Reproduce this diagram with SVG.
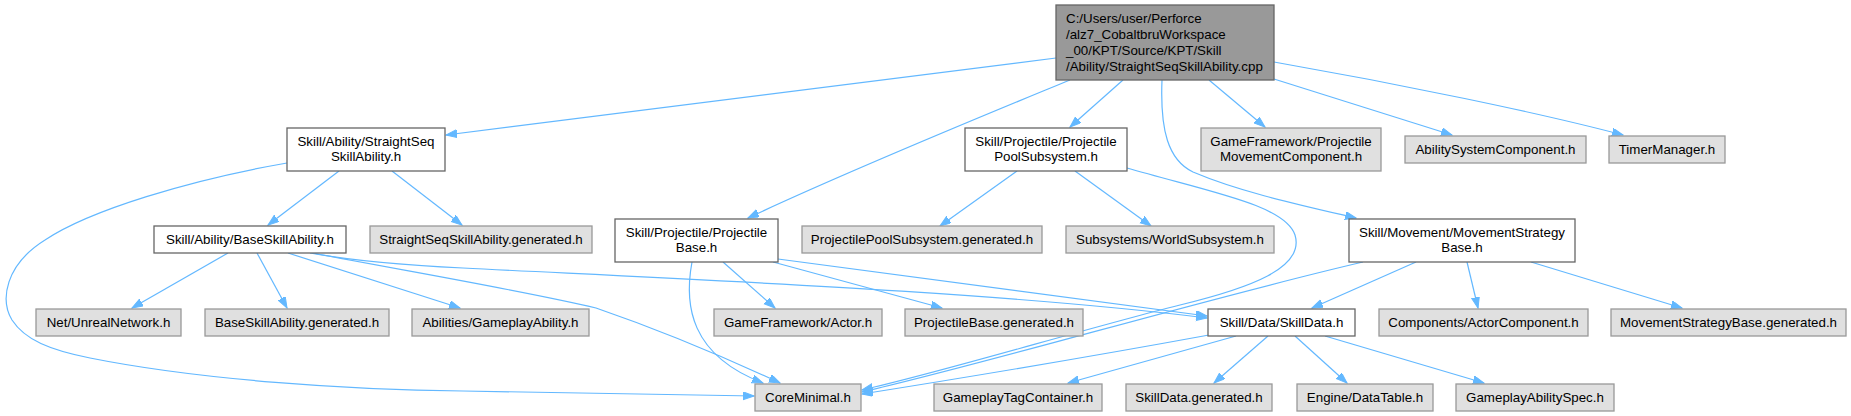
<svg xmlns="http://www.w3.org/2000/svg" width="1851" height="416" viewBox="0 0 1851 416">
<style>
.e{fill:none;stroke:#63b8ff;stroke-width:1.2;marker-end:url(#ah)}
.w{fill:#ffffff;stroke:#666666;stroke-width:1.3}
.g{fill:#e0e0e0;stroke:#999999;stroke-width:1.3}
.r{fill:#999999;stroke:#666666;stroke-width:1.3}
text{font-family:"Liberation Sans",Arial,sans-serif;font-size:13.33px;fill:#000000;text-anchor:middle}
.l{text-anchor:start}
</style>
<defs>
<marker id="ah" markerUnits="userSpaceOnUse" markerWidth="12" markerHeight="9" refX="11" refY="4" orient="auto">
<path d="M0,0 L11,4 L0,8 z" fill="#63b8ff" stroke="#63b8ff" stroke-width="1"/>
</marker>
</defs>
<rect width="1851" height="416" fill="#ffffff"/>
<g id="edges">
<path class="e" d="M1056,58 L446,135"/>
<path class="e" d="M1070,80 C990,113 850,170 748,218"/>
<path class="e" d="M1123,80 L1070,127"/>
<path class="e" d="M1162,80 C1160,130 1168,160 1193,172 C1240,192 1300,205 1356,218"/>
<path class="e" d="M1209,80 L1265,127"/>
<path class="e" d="M1274,79 L1452,135"/>
<path class="e" d="M1274,62 C1400,84 1540,113 1623,135"/>
<path class="e" d="M287,163 C190,180 90,210 45,240 C5,265 0,300 12,320 C25,340 50,350 90,358 C200,380 350,390 463,391 L754,396"/>
<path class="e" d="M339,171 L268,225"/>
<path class="e" d="M392,171 L462,225"/>
<path class="e" d="M228,253 L132,308"/>
<path class="e" d="M257,253 L287,308"/>
<path class="e" d="M288,253 L460,308"/>
<path class="e" d="M313,253 C400,270 520,290 596,308 C660,330 720,355 780,383"/>
<path class="e" d="M310,253 C360,262 420,266 463,268 C700,280 1000,292 1207,318"/>
<path class="e" d="M692,262 C684,305 690,355 763,383"/>
<path class="e" d="M723,262 L775,308"/>
<path class="e" d="M773,262 L942,308"/>
<path class="e" d="M778,259 L1207,316"/>
<path class="e" d="M1017,171 L940,226"/>
<path class="e" d="M1075,171 L1151,226"/>
<path class="e" d="M1127,168 C1210,192 1285,205 1295,235 C1305,268 1250,288 1180,305 C1080,330 950,370 862,390"/>
<path class="e" d="M1363,262 C1200,300 1000,360 862,392"/>
<path class="e" d="M1416,262 L1312,308"/>
<path class="e" d="M1467,262 L1478,308"/>
<path class="e" d="M1531,262 L1682,308"/>
<path class="e" d="M1209,335 C1100,355 950,380 862,394"/>
<path class="e" d="M1236,336 L1068,383"/>
<path class="e" d="M1268,336 L1214,383"/>
<path class="e" d="M1295,336 L1347,383"/>
<path class="e" d="M1325,336 L1484,383"/>
</g>
<g id="root"><rect class="r" x="1056" y="5" width="218" height="75"/>
<text class="l" x="1066" y="23">C:/Users/user/Perforce</text>
<text class="l" x="1066" y="39">/alz7_CobaltbruWorkspace</text>
<text class="l" x="1066" y="54.5">_00/KPT/Source/KPT/Skill</text>
<text class="l" x="1066" y="70.5">/Ability/StraightSeqSkillAbility.cpp</text></g>
<g id="n1"><rect class="w" x="287" y="128" width="158" height="43"/><text x="366" y="146.3">Skill/Ability/StraightSeq</text><text x="366" y="161.3">SkillAbility.h</text></g>
<g id="n2"><rect class="w" x="965" y="128" width="162" height="43"/><text x="1046" y="146.3">Skill/Projectile/Projectile</text><text x="1046" y="161.3">PoolSubsystem.h</text></g>
<g id="n3"><rect class="g" x="1201" y="128" width="180" height="43"/><text x="1291" y="146.3">GameFramework/Projectile</text><text x="1291" y="161.3">MovementComponent.h</text></g>
<g id="n4"><rect class="g" x="1405" y="136" width="181" height="27"/><text x="1495.5" y="154.3">AbilitySystemComponent.h</text></g>
<g id="n5"><rect class="g" x="1609" y="136" width="116" height="27"/><text x="1667" y="154.3">TimerManager.h</text></g>
<g id="n6"><rect class="w" x="154" y="226" width="192" height="27"/><text x="250" y="244.3">Skill/Ability/BaseSkillAbility.h</text></g>
<g id="n7"><rect class="g" x="370" y="226" width="222" height="27"/><text x="481" y="244.3">StraightSeqSkillAbility.generated.h</text></g>
<g id="n8"><rect class="w" x="615" y="219" width="163" height="43"/><text x="696.5" y="237">Skill/Projectile/Projectile</text><text x="696.5" y="252.3">Base.h</text></g>
<g id="n9"><rect class="g" x="802" y="226" width="240" height="27"/><text x="922" y="244.3">ProjectilePoolSubsystem.generated.h</text></g>
<g id="n10"><rect class="g" x="1066" y="226" width="208" height="27"/><text x="1170" y="244.3">Subsystems/WorldSubsystem.h</text></g>
<g id="n11"><rect class="w" x="1349" y="219" width="226" height="43"/><text x="1462" y="237">Skill/Movement/MovementStrategy</text><text x="1462" y="252.3">Base.h</text></g>
<g id="n12"><rect class="g" x="36" y="309" width="145" height="27"/><text x="108.5" y="327.3">Net/UnrealNetwork.h</text></g>
<g id="n13"><rect class="g" x="205" y="309" width="184" height="27"/><text x="297" y="327.3">BaseSkillAbility.generated.h</text></g>
<g id="n14"><rect class="g" x="412" y="309" width="177" height="27"/><text x="500.5" y="327.3">Abilities/GameplayAbility.h</text></g>
<g id="n15"><rect class="g" x="714" y="309" width="168" height="27"/><text x="798" y="327.3">GameFramework/Actor.h</text></g>
<g id="n16"><rect class="g" x="905" y="309" width="178" height="27"/><text x="994" y="327.3">ProjectileBase.generated.h</text></g>
<g id="n17"><rect class="w" x="1208" y="309" width="147" height="27"/><text x="1281.5" y="327.3">Skill/Data/SkillData.h</text></g>
<g id="n18"><rect class="g" x="1379" y="309" width="209" height="27"/><text x="1483.5" y="327.3">Components/ActorComponent.h</text></g>
<g id="n19"><rect class="g" x="1611" y="309" width="235" height="27"/><text x="1728.5" y="327.3">MovementStrategyBase.generated.h</text></g>
<g id="n20"><rect class="g" x="755" y="384" width="106" height="27"/><text x="808" y="402.3">CoreMinimal.h</text></g>
<g id="n21"><rect class="g" x="934" y="384" width="168" height="27"/><text x="1018" y="402.3">GameplayTagContainer.h</text></g>
<g id="n22"><rect class="g" x="1126" y="384" width="146" height="27"/><text x="1199" y="402.3">SkillData.generated.h</text></g>
<g id="n23"><rect class="g" x="1297" y="384" width="136" height="27"/><text x="1365" y="402.3">Engine/DataTable.h</text></g>
<g id="n24"><rect class="g" x="1456" y="384" width="158" height="27"/><text x="1535" y="402.3">GameplayAbilitySpec.h</text></g>
</svg>
